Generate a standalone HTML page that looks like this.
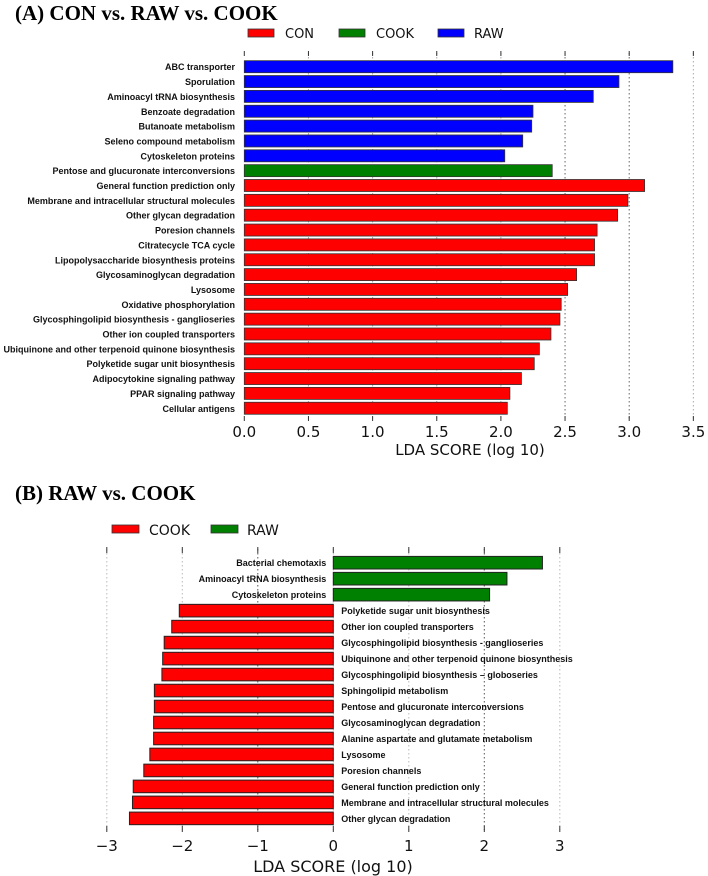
<!DOCTYPE html>
<html><head><meta charset="utf-8"><style>
body{margin:0;background:#fff;}
svg{display:block;font-family:"DejaVu Sans","Liberation Sans",sans-serif;}
.lab{font-family:"Liberation Sans",sans-serif;font-size:9px;font-weight:bold;fill:#111;}
.tick{font-size:15px;fill:#111;}
.title{font-family:"Liberation Serif",serif;font-weight:bold;font-size:21px;fill:#000;}
</style></head><body>
<svg id="chart" width="708" height="876" viewBox="0 0 708 876">
<text class="title" x="15" y="20">(A) CON vs. RAW vs. COOK</text>
<text class="title" x="15" y="500">(B) RAW vs. COOK</text>
<g id="ga"></g><g id="gb"></g>
</svg>
<script>
const aCategories=["ABC transporter","Sporulation","Aminoacyl tRNA biosynthesis","Benzoate degradation","Butanoate metabolism","Seleno compound metabolism","Cytoskeleton proteins","Pentose and glucuronate interconversions","General function prediction only","Membrane and intracellular structural  molecules","Other glycan degradation","Poresion channels","Citratecycle TCA cycle","Lipopolysaccharide biosynthesis proteins","Glycosaminoglycan degradation","Lysosome","Oxidative phosphorylation","Glycosphingolipid biosynthesis - ganglioseries","Other ion coupled transporters","Ubiquinone and other terpenoid quinone biosynthesis","Polyketide sugar unit biosynthesis","Adipocytokine signaling pathway","PPAR signaling pathway","Cellular antigens"];
const aValues=[3.34,2.92,2.72,2.25,2.24,2.17,2.03,2.40,3.12,2.99,2.91,2.75,2.73,2.73,2.59,2.52,2.47,2.46,2.39,2.30,2.26,2.16,2.07,2.05];
const aGroups=["RAW","RAW","RAW","RAW","RAW","RAW","RAW","COOK","CON","CON","CON","CON","CON","CON","CON","CON","CON","CON","CON","CON","CON","CON","CON","CON"];
const aTicks=[0,0.5,1,1.5,2,2.5,3,3.5];
const aTickLabels=["0.0","0.5","1.0","1.5","2.0","2.5","3.0","3.5"];
const bCategories=["Bacterial chemotaxis","Aminoacyl tRNA biosynthesis","Cytoskeleton proteins","Polyketide sugar unit biosynthesis","Other ion coupled transporters","Glycosphingolipid biosynthesis - ganglioseries","Ubiquinone and other terpenoid quinone biosynthesis","Glycosphingolipid biosynthesis \u2013 globoseries","Sphingolipid metabolism","Pentose and glucuronate interconversions","Glycosaminoglycan degradation","Alanine aspartate and glutamate metabolism","Lysosome","Poresion channels","General function prediction only","Membrane and intracellular structural molecules","Other glycan degradation"];
const bValues=[2.77,2.30,2.07,-2.04,-2.14,-2.24,-2.26,-2.27,-2.37,-2.37,-2.38,-2.38,-2.43,-2.51,-2.65,-2.66,-2.70];
const bTicks=[-3,-2,-1,0,1,2,3];
const bTickLabels=["\u22123","\u22122","\u22121","0","1","2","3"];
const colors={CON:"#ff0000",COOK:"#008000",RAW:"#0000ff"};
const NS="http://www.w3.org/2000/svg";
function mk(parent,tag,attrs,txt){const e=document.createElementNS(NS,tag);for(const k in attrs)e.setAttribute(k,attrs[k]);if(txt!==undefined)e.textContent=txt;parent.appendChild(e);return e;}

// Panel A
const ga=document.getElementById('ga');
const ax=v=>244.3+v*128.3;
const ay=i=>66.7+i*14.85;
aTicks.forEach((t,i)=>{
  if(t>0){const g=mk(ga,'line',{x1:ax(t),x2:ax(t),y1:53,y2:420,stroke:t===3||t===2.5?'#666':'#aaa','stroke-width':1,'stroke-dasharray':'1.5,2.5'});
  }
  const tk=mk(ga,'line',{x1:ax(t),x2:ax(t),y1:51,y2:56,stroke:'#333'});
  
  const tb=mk(ga,'line',{x1:ax(t),x2:ax(t),y1:416,y2:421,stroke:'#333'});
  
  const l=mk(ga,'text',{x:ax(t),y:437,'text-anchor':'middle',class:'tick'},aTickLabels[i]);
  
});
aCategories.forEach((c,i)=>{
  const r=mk(ga,'rect',{x:ax(0),y:ay(i)-6,width:ax(aValues[i])-ax(0),height:12,fill:colors[aGroups[i]],stroke:'#333','stroke-width':0.8});
  
  const t=mk(ga,'text',{x:235,y:ay(i)+3.5,'text-anchor':'end',class:'lab'},c);
  
});
const xa=mk(ga,'text',{x:470,y:455,'text-anchor':'middle','font-size':15,fill:'#111'},'LDA SCORE (log 10)');

[["CON",248,285],["COOK",339,376],["RAW",438,474]].forEach(([n,bx,tx])=>{
  const r=mk(ga,'rect',{x:bx,y:29,width:26,height:8,fill:colors[n],stroke:'#333','stroke-width':0.8});
  
  const t=mk(ga,'text',{x:tx,y:38,'font-size':13,fill:'#111'},n);
  
});

// Panel B
const gb=document.getElementById('gb');
const bx=v=>333.3+v*75.5;
const by=i=>562.7+i*15.98;
bTicks.forEach((t,i)=>{
  const g=mk(gb,'line',{x1:bx(t),x2:bx(t),y1:549,y2:830,stroke:(t===-1||t===2)?'#555':'#bbb','stroke-width':1,'stroke-dasharray':'1.5,2.5'});
  
  const tk=mk(gb,'line',{x1:bx(t),x2:bx(t),y1:547,y2:553,stroke:'#333'});
  
  const tb=mk(gb,'line',{x1:bx(t),x2:bx(t),y1:826,y2:832,stroke:'#333'});
  
  const l=mk(gb,'text',{x:bx(t),y:851,'text-anchor':'middle',class:'tick','font-size':16},bTickLabels[i]);
  
});
bCategories.forEach((c,i)=>{
  const v=bValues[i];
  const x0=Math.min(bx(0),bx(v)),w=Math.abs(bx(v)-bx(0));
  const r=mk(gb,'rect',{x:x0,y:by(i)-6.3,width:w,height:12.6,fill:v>0?'#008000':'#ff0000',stroke:'#222','stroke-width':1});
  
  const t=v>0?mk(gb,'text',{x:bx(0)-7,y:by(i)+3.5,'text-anchor':'end',class:'lab'},c):mk(gb,'text',{x:bx(0)+8,y:by(i)+3.5,class:'lab'},c);
  
});
const xb=mk(gb,'text',{x:333,y:872,'text-anchor':'middle','font-size':16,fill:'#111'},'LDA SCORE (log 10)');

[["COOK","#ff0000",112,149],["RAW","#008000",211,247]].forEach(([n,c,bxx,tx])=>{
  const r=mk(gb,'rect',{x:bxx,y:525,width:27,height:8,fill:c,stroke:'#333','stroke-width':0.8});
  
  const t=mk(gb,'text',{x:tx,y:535,'font-size':14,fill:'#111'},n);
  
});
</script>
</body></html>
